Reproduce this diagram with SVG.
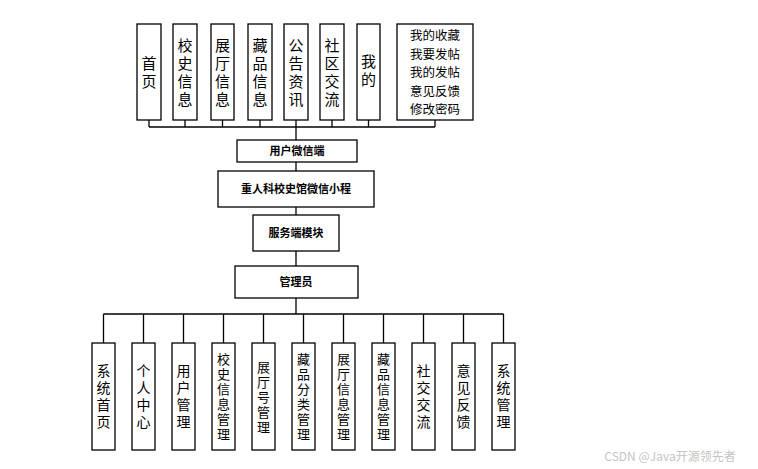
<svg xmlns="http://www.w3.org/2000/svg" width="758" height="469" viewBox="0 0 758 469">
<style>
rect{fill:#fff;stroke:#000;stroke-width:1.3}
.c line{stroke:#000;stroke-width:1.3;fill:none}
text{font-family:"Noto Sans CJK SC",sans-serif;fill:#000;text-anchor:middle}
.v{writing-mode:vertical-rl;text-orientation:upright}
.t{font-size:15px;letter-spacing:3px}
.s{font-size:12.5px}
.b{font-size:14px;letter-spacing:3px}
.b6{font-size:13px;letter-spacing:2px}
.m{font-size:11px;font-weight:bold}
</style>
<rect width="758" height="469" style="fill:#fff;stroke:none"/>
<g class="c">
<line x1="149" y1="127" x2="435" y2="127"/>
<line x1="149" y1="120" x2="149" y2="127"/><line x1="185" y1="120" x2="185" y2="127"/><line x1="222.5" y1="120" x2="222.5" y2="127"/><line x1="260" y1="120" x2="260" y2="127"/><line x1="332" y1="120" x2="332" y2="127"/><line x1="368.5" y1="120" x2="368.5" y2="127"/><line x1="435" y1="120" x2="435" y2="127"/>
<line x1="296" y1="120" x2="296" y2="140"/>
<line x1="296" y1="162" x2="296" y2="171"/>
<line x1="296" y1="207" x2="296" y2="215"/>
<line x1="296" y1="251" x2="296" y2="266"/>
<line x1="296" y1="298" x2="296" y2="314"/>
<line x1="103.5" y1="314" x2="503.5" y2="314"/>
<line x1="103.5" y1="314" x2="103.5" y2="343"/><line x1="143.5" y1="314" x2="143.5" y2="343"/><line x1="183.5" y1="314" x2="183.5" y2="343"/><line x1="223.5" y1="314" x2="223.5" y2="343"/><line x1="263.5" y1="314" x2="263.5" y2="343"/><line x1="303.5" y1="314" x2="303.5" y2="343"/><line x1="343.5" y1="314" x2="343.5" y2="343"/><line x1="383.5" y1="314" x2="383.5" y2="343"/><line x1="423.5" y1="314" x2="423.5" y2="343"/><line x1="463.5" y1="314" x2="463.5" y2="343"/><line x1="503.5" y1="314" x2="503.5" y2="343"/>
</g>
<g id="n1"><rect x="137" y="24" width="24" height="96"/><text class="v t" x="149" y="74">首页</text></g>
<g id="n2"><rect x="173" y="24" width="24" height="96"/><text class="v t" x="185" y="74">校史信息</text></g>
<g id="n3"><rect x="211" y="24" width="23" height="96"/><text class="v t" x="222.5" y="74">展厅信息</text></g>
<g id="n4"><rect x="248" y="24" width="24" height="96"/><text class="v t" x="260" y="74">藏品信息</text></g>
<g id="n5"><rect x="284" y="24" width="24" height="96"/><text class="v t" x="296" y="74">公告资讯</text></g>
<g id="n6"><rect x="320" y="24" width="24" height="96"/><text class="v t" x="332" y="74">社区交流</text></g>
<g id="n7"><rect x="357" y="24" width="23" height="96"/><text class="v t" x="368.5" y="72">我的</text></g>
<g id="n8"><rect x="397" y="24" width="76" height="96"/><text class="s"><tspan x="435" y="40">我的收藏</tspan><tspan x="435" y="58.5">我要发帖</tspan><tspan x="435" y="77">我的发帖</tspan><tspan x="435" y="95.5">意见反馈</tspan><tspan x="435" y="114">修改密码</tspan></text></g>
<g id="u"><rect x="237" y="140" width="120" height="22"/><text class="m" x="297" y="155">用户微信端</text></g>
<g id="app"><rect x="218" y="171" width="156" height="36"/><text class="m" x="296" y="193">重人科校史馆微信小程</text></g>
<g id="srv"><rect x="253" y="215" width="86" height="36"/><text class="m" x="296" y="237">服务端模块</text></g>
<g id="adm"><rect x="235" y="266" width="123" height="32"/><text class="m" x="296" y="286">管理员</text></g>
<g id="b1"><rect x="92" y="343" width="23" height="107"/><text class="v b" x="103.5" y="398">系统首页</text></g>
<g id="b2"><rect x="132" y="343" width="23" height="107"/><text class="v b" x="143.5" y="398">个人中心</text></g>
<g id="b3"><rect x="172" y="343" width="23" height="107"/><text class="v b" x="183.5" y="398">用户管理</text></g>
<g id="b4"><rect x="212" y="343" width="23" height="107"/><text class="v b6" x="223.5" y="398">校史信息管理</text></g>
<g id="b5"><rect x="252" y="343" width="23" height="107"/><text class="v b6" x="263.5" y="398">展厅号管理</text></g>
<g id="b6"><rect x="292" y="343" width="23" height="107"/><text class="v b6" x="303.5" y="398">藏品分类管理</text></g>
<g id="b7"><rect x="332" y="343" width="23" height="107"/><text class="v b6" x="343.5" y="398">展厅信息管理</text></g>
<g id="b8"><rect x="372" y="343" width="23" height="107"/><text class="v b6" x="383.5" y="398">藏品信息管理</text></g>
<g id="b9"><rect x="412" y="343" width="23" height="107"/><text class="v b" x="423.5" y="398">社交交流</text></g>
<g id="b10"><rect x="452" y="343" width="23" height="107"/><text class="v b" x="463.5" y="398">意见反馈</text></g>
<g id="b11"><rect x="492" y="343" width="23" height="107"/><text class="v b" x="503.5" y="398">系统管理</text></g>
<text x="670" y="461" style="font-size:12px;fill:#c4c4c4">CSDN @Java开源领先者</text>
</svg>
